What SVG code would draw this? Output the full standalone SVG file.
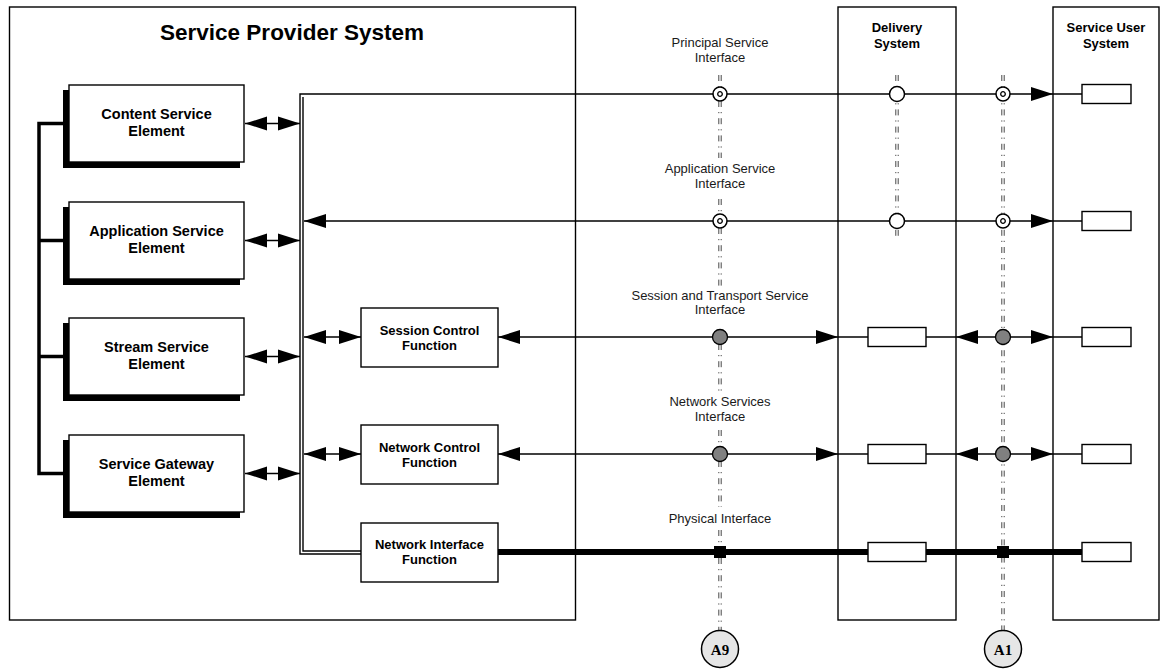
<svg xmlns="http://www.w3.org/2000/svg" xmlns:xlink="http://www.w3.org/1999/xlink" width="1160" height="670" viewBox="0 0 1160 670">
<style>
.sys{fill:#fff;stroke:#000;stroke-width:1.4}
.box{fill:#fff;stroke:#000;stroke-width:1.4}
.shadow{fill:#000}
.sm{fill:#fff;stroke:#000;stroke-width:1.4}
.ln{fill:none;stroke:#000;stroke-width:1.4}
.thick{fill:none;stroke:#000;stroke-width:6}
.br{fill:none;stroke:#000;stroke-width:3.5}
.dd{fill:none;stroke:#333;stroke-width:0.9;stroke-dasharray:6 5 1.2 5}
.t{font-family:"Liberation Sans",Arial,sans-serif;text-anchor:middle;fill:#000}
.b{font-weight:bold}
.lab{font-family:"Liberation Sans",Arial,sans-serif;text-anchor:middle;fill:#1a1a1a;font-size:13px}
.wc{fill:#fff;stroke:#000;stroke-width:1.5}
.gc{fill:#808080;stroke:#000;stroke-width:1.3}
.ac{fill:#e6e6e6;stroke:#000;stroke-width:1.5}
.at{font-family:"Liberation Serif","Times New Roman",serif;font-weight:bold;font-size:15px;text-anchor:middle}
</style>
<defs>
<path id="ar" d="M0,0 L-22,-7 L-22,7 Z" fill="#000"/>
<path id="al" d="M0,0 L22,-7 L22,7 Z" fill="#000"/>
<g id="dc"><circle r="7" class="wc"/><circle r="2.3" fill="#fff" stroke="#000" stroke-width="1.3"/></g>
</defs>

<g id="service-provider-system">
<rect class="sys" x="9.5" y="7" width="566" height="613"/>
<text class="t b" x="292" y="40" font-size="22.5">Service Provider System</text>
</g>
<g id="delivery-system">
<rect class="sys" x="838" y="7" width="118" height="613"/>
<text class="t b" x="897" y="31.5" font-size="13">Delivery</text>
<text class="t b" x="897" y="47.5" font-size="13">System</text>
</g>
<g id="service-user-system">
<rect class="sys" x="1053" y="7" width="106" height="613"/>
<text class="t b" x="1106" y="31.5" font-size="13">Service User</text>
<text class="t b" x="1106" y="47.5" font-size="13">System</text>
</g>

<g id="interface-lines">
<g id="a9-line">
<path class="dd" d="M718.8,75V88M718.8,101V158M718.8,199V214M718.8,228V286M718.8,344V392M718.8,430V447M718.8,461V507M718.8,530V546M718.8,558V630"/>
<path class="dd" d="M721.2,75V88M721.2,101V158M721.2,199V214M721.2,228V286M721.2,344V392M721.2,430V447M721.2,461V507M721.2,530V546M721.2,558V630"/>
</g>
<g id="a1-line">
<path class="dd" d="M1001.8,75V630"/>
<path class="dd" d="M1004.2,75V630"/>
</g>
<g id="delivery-line">
<path class="dd" d="M895.8,75V238"/>
<path class="dd" d="M898.2,75V238"/>
</g>
</g>

<g id="interface-labels">
<text class="lab" x="720" y="46.5">Principal Service</text>
<text class="lab" x="720" y="61.5">Interface</text>
<text class="lab" x="720" y="172.5">Application Service</text>
<text class="lab" x="720" y="187.5">Interface</text>
<text class="lab" x="720" y="299.5">Session and Transport Service</text>
<text class="lab" x="720" y="314">Interface</text>
<text class="lab" x="720" y="405.5">Network Services</text>
<text class="lab" x="720" y="420.5">Interface</text>
<text class="lab" x="720" y="522.5">Physical Interface</text>
</g>

<g id="connectors">
<path class="br" d="M69,123.5H39V473.5H69M39,240.5H69M39,356.5H69"/>
<path class="ln" d="M361,554H300V94H1082"/>
<path class="ln" d="M361,551H303V97"/>
<line class="ln" x1="245" y1="123.5" x2="300" y2="123.5"/>
<use href="#al" x="245" y="123.5"/><use href="#ar" x="300" y="123.5"/>
<line class="ln" x1="245" y1="240.5" x2="300" y2="240.5"/>
<use href="#al" x="245" y="240.5"/><use href="#ar" x="300" y="240.5"/>
<line class="ln" x1="245" y1="356.5" x2="300" y2="356.5"/>
<use href="#al" x="245" y="356.5"/><use href="#ar" x="300" y="356.5"/>
<line class="ln" x1="245" y1="473.5" x2="300" y2="473.5"/>
<use href="#al" x="245" y="473.5"/><use href="#ar" x="300" y="473.5"/>
<line class="ln" x1="304" y1="337" x2="361" y2="337"/>
<use href="#al" x="304" y="337"/><use href="#ar" x="361" y="337"/>
<line class="ln" x1="304" y1="454" x2="361" y2="454"/>
<use href="#al" x="304" y="454"/><use href="#ar" x="361" y="454"/>
<use href="#ar" x="1053" y="94"/>
<line class="ln" x1="304" y1="221" x2="1082" y2="221"/>
<use href="#al" x="304" y="221"/><use href="#ar" x="1053" y="221"/>
<line class="ln" x1="498" y1="337" x2="1082" y2="337"/>
<use href="#al" x="498" y="337"/><use href="#ar" x="838" y="337"/><use href="#al" x="956" y="337"/><use href="#ar" x="1053" y="337"/>
<line class="ln" x1="498" y1="454" x2="1082" y2="454"/>
<use href="#al" x="498" y="454"/><use href="#ar" x="838" y="454"/><use href="#al" x="956" y="454"/><use href="#ar" x="1053" y="454"/>
<line class="thick" x1="498" y1="552" x2="1082" y2="552"/>
</g>

<g id="interface-points">
<use href="#dc" x="720" y="94"/><circle class="wc" cx="897" cy="94" r="7.5"/><use href="#dc" x="1003" y="94"/>
<use href="#dc" x="720" y="221"/><circle class="wc" cx="897" cy="221" r="7.5"/><use href="#dc" x="1003" y="221"/>
<circle class="gc" cx="720" cy="337" r="7.5"/><circle class="gc" cx="1003" cy="337" r="7.5"/>
<circle class="gc" cx="720" cy="454" r="7.5"/><circle class="gc" cx="1003" cy="454" r="7.5"/>
<rect x="714" y="546" width="12" height="12" fill="#000"/>
<rect x="997" y="546" width="12" height="12" fill="#000"/>
</g>

<g id="content-service-element">
<rect class="shadow" x="63" y="90" width="177" height="78"/>
<rect class="box" x="69" y="85" width="175" height="77"/>
<text class="t b" x="156.5" y="119" font-size="14.5">Content Service</text>
<text class="t b" x="156.5" y="136" font-size="14.5">Element</text>
</g>
<g id="application-service-element">
<rect class="shadow" x="63" y="207" width="177" height="78"/>
<rect class="box" x="69" y="202" width="175" height="77"/>
<text class="t b" x="156.5" y="236" font-size="14.5">Application Service</text>
<text class="t b" x="156.5" y="253" font-size="14.5">Element</text>
</g>
<g id="stream-service-element">
<rect class="shadow" x="63" y="323" width="177" height="78"/>
<rect class="box" x="69" y="318" width="175" height="77"/>
<text class="t b" x="156.5" y="352" font-size="14.5">Stream Service</text>
<text class="t b" x="156.5" y="369" font-size="14.5">Element</text>
</g>
<g id="service-gateway-element">
<rect class="shadow" x="63" y="440" width="177" height="78"/>
<rect class="box" x="69" y="435" width="175" height="77"/>
<text class="t b" x="156.5" y="469" font-size="14.5">Service Gateway</text>
<text class="t b" x="156.5" y="486" font-size="14.5">Element</text>
</g>

<g id="session-control-function">
<rect class="box" x="361" y="308" width="137" height="59"/>
<text class="t b" x="429.5" y="334.5" font-size="13">Session Control</text>
<text class="t b" x="429.5" y="349.5" font-size="13">Function</text>
</g>
<g id="network-control-function">
<rect class="box" x="361" y="425" width="137" height="59"/>
<text class="t b" x="429.5" y="451.5" font-size="13">Network Control</text>
<text class="t b" x="429.5" y="466.5" font-size="13">Function</text>
</g>
<g id="network-interface-function">
<rect class="box" x="361" y="523" width="137" height="59"/>
<text class="t b" x="429.5" y="549" font-size="13">Network Interface</text>
<text class="t b" x="429.5" y="564" font-size="13">Function</text>
</g>

<g id="delivery-boxes">
<rect class="sm" x="868" y="327.5" width="58" height="19"/>
<rect class="sm" x="868" y="444.5" width="58" height="19"/>
<rect class="sm" x="868" y="542.5" width="58" height="19"/>
</g>
<g id="user-boxes">
<rect class="sm" x="1082" y="84.5" width="49" height="19"/>
<rect class="sm" x="1082" y="211.5" width="49" height="19"/>
<rect class="sm" x="1082" y="327.5" width="49" height="19"/>
<rect class="sm" x="1082" y="444.5" width="49" height="19"/>
<rect class="sm" x="1082" y="542.5" width="49" height="19"/>
</g>

<g id="a9">
<circle class="ac" cx="720" cy="649" r="18.5"/>
<text class="at" x="720" y="654.5">A9</text>
</g>
<g id="a1">
<circle class="ac" cx="1003" cy="649" r="18.5"/>
<text class="at" x="1003" y="654.5">A1</text>
</g>
</svg>
